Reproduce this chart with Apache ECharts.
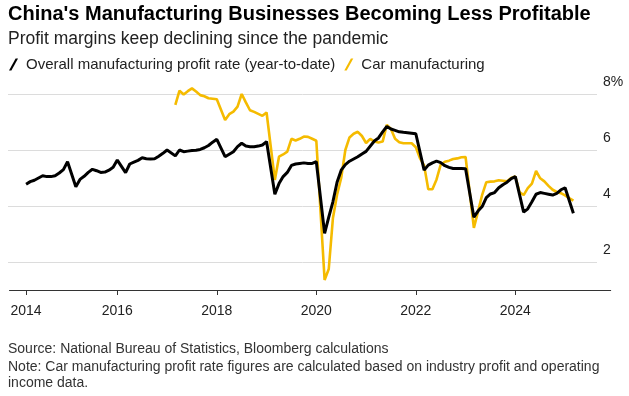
<!DOCTYPE html>
<html><head><meta charset="utf-8">
<script src="https://cdn.jsdelivr.net/npm/echarts@6/dist/echarts.min.js"></script>
<style>html,body{margin:0;padding:0;background:#fff}#c{width:629px;height:396px}</style>
</head><body><div id="c"></div>
<script>
const titleText = "China's Manufacturing Businesses Becoming Less Profitable";
const subtitleText = "Profit margins keep declining since the pandemic";
const sourceText = "Source: National Bureau of Statistics, Bloomberg calculations";
const noteText = "Note: Car manufacturing profit rate figures are calculated based on industry profit and operating\nincome data.";
const seriesNames = ['Overall manufacturing profit rate (year-to-date)', 'Car manufacturing'];

// monthly positions of the time axis
const axisStart = [2013, 11];
const axisEnd = [2025, 12];
const tickMonths = ['2014-03', '2016-01', '2018-01', '2020-01', '2022-01', '2024-01'];
const tickLabels = ['2014', '2016', '2018', '2020', '2022', '2024'];
const yTickLabels = {2: '2', 4: '4', 6: '6', 8: '8%'};

// Overall manufacturing profit rate (%), monthly from 2014-03
const overallStart = '2014-03';
const overallRate = [
  4.78, 4.87, 4.92, 5.0, 5.08, 5.05, 5.05, 5.08, 5.18, 5.3, 5.58,
  null,
  4.69, 4.95, 5.06, 5.2, 5.31, 5.26, 5.2, 5.21, 5.28, 5.38, 5.64,
  null,
  5.19, 5.5, 5.57, 5.63, 5.72, 5.69, 5.68, 5.69, 5.78, 5.88, 6.0,
  null,
  5.79, 6.0, 5.94, 5.96, 5.98, 5.99, 6.02, 6.08, 6.16, 6.28, 6.38,
  null,
  5.76, 5.85, 5.94, 6.12, 6.24, 6.14, 6.12, 6.12, 6.14, 6.18, 6.3,
  null,
  4.42, 4.8, 5.05, 5.2, 5.45, 5.5, 5.52, 5.54, 5.52, 5.52, 5.58,
  null,
  3.02, 3.6, 4.15, 4.85, 5.28, 5.48, 5.6, 5.68, 5.76, 5.86, 5.95,
  null,
  6.32, 6.43, 6.65, 6.84, 6.75, 6.7, 6.65, 6.63, 6.62, 6.6, 6.58,
  null,
  5.28, 5.46, 5.54, 5.6, 5.55, 5.44, 5.38, 5.34, 5.34, 5.34, 5.33,
  null,
  3.6, 3.82, 3.98, 4.3, 4.43, 4.48, 4.65, 4.76, 4.85, 4.98, 5.05,
  null,
  3.78, 3.9, 4.15, 4.42, 4.48, 4.45, 4.42, 4.39, 4.45, 4.58, 4.65,
  null,
  3.74
];

// Car manufacturing profit rate (%), monthly from 2017-03
const carStart = '2017-03';
const carRate = [
  7.61, 8.12, 7.98, 8.1, 8.2, 8.09, 7.96, 7.92, 7.85, 7.83, 7.81,
  null,
  7.07, 7.28, 7.37, 7.55, 8.0, 7.7, 7.42, 7.36, 7.29, 7.22, 7.34,
  null,
  4.93, 5.76, 5.84, 5.94, 6.4, 6.34, 6.4, 6.48, 6.47, 6.4, 6.33,
  null,
  1.36, 1.75, 3.56, 4.4, 5.0, 6.0, 6.45, 6.58, 6.65, 6.5, 6.25,
  6.4,
  6.3, 6.27, 6.3, 6.9, 6.75, 6.4, 6.28, 6.24, 6.24, 6.24, 6.1,
  5.7,
  5.45, 4.6, 4.6, 4.95, 5.48, 5.58, 5.62, 5.68, 5.7, 5.74, 5.75,
  null,
  3.22, 3.8, 4.4, 4.85, 4.87, 4.88, 4.92, 4.9, 4.88, 5.0, 5.05,
  4.5,
  4.39, 4.64, 4.8, 5.25, 4.99, 4.88, 4.72, 4.58, 4.5, 4.46, 4.38,
  4.28,
  4.19
];

function buildMonths(a, b) {
  const out = [];
  let y = a[0], m = a[1];
  while (y < b[0] || (y === b[0] && m <= b[1])) {
    out.push(y + '-' + String(m).padStart(2, '0'));
    m++; if (m > 12) { m = 1; y++; }
  }
  return out;
}
const months = buildMonths(axisStart, axisEnd);
function place(start, values) {
  const arr = new Array(months.length).fill(null);
  const s = months.indexOf(start);
  values.forEach((v, i) => { if (s + i < arr.length) arr[s + i] = v; });
  return arr;
}

const FONT = 'Liberation Sans, Arial, sans-serif';
const chart = echarts.init(document.getElementById('c'), null, {renderer: 'canvas'});
const tickFn = (idx, val) => tickMonths.indexOf(val) >= 0;

chart.setOption({
  animation: false,
  backgroundColor: '#fff',
  textStyle: {fontFamily: FONT},
  title: [
    {text: titleText, left: 8, top: 4, padding: 0,
     textStyle: {fontSize: 20, fontWeight: 'bold', color: '#000', fontFamily: FONT}},
    {text: subtitleText, left: 8, top: 30, padding: 0,
     textStyle: {fontSize: 17.5, fontWeight: 'normal', color: '#222', fontFamily: FONT}},
    {text: sourceText, left: 8, top: 342, padding: 0,
     textStyle: {fontSize: 14, fontWeight: 'normal', color: '#333', fontFamily: FONT}},
    {text: noteText, left: 8, top: 359, padding: 0,
     textStyle: {fontSize: 14, fontWeight: 'normal', color: '#333', lineHeight: 16, fontFamily: FONT}}
  ],
  legend: {
    left: 9, top: 57, padding: 0,
    itemWidth: 9, itemHeight: 12, itemGap: 9,
    icon: 'path://M0,12 L2.4,12 L9,0 L6.6,0 Z',
    data: seriesNames,
    textStyle: {fontSize: 15, color: '#222', fontFamily: FONT, padding: [0, 0, 0, 3]}
  },
  grid: [
    {left: 9.5, right: 18.3, top: 66, bottom: 106, containLabel: false},
    {left: 8, right: 32, top: 66, bottom: 78, containLabel: false}
  ],
  xAxis: [
    {type: 'category', gridIndex: 0, data: months, boundaryGap: false,
     axisLine: {onZero: false, lineStyle: {color: '#333', width: 1}},
     axisTick: {show: true, interval: tickFn, length: 5, lineStyle: {color: '#333'}},
     axisLabel: {interval: tickFn, margin: 14, fontSize: 14, color: '#222', fontFamily: FONT,
       formatter: v => tickLabels[tickMonths.indexOf(v)] || ''},
     splitLine: {show: false}},
    {type: 'category', gridIndex: 1, data: months, boundaryGap: false, show: false}
  ],
  yAxis: [
    {type: 'value', gridIndex: 0, min: 1, max: 9, show: false, splitLine: {show: false}},
    {type: 'value', gridIndex: 1, min: 0, max: 9, interval: 2, position: 'right',
     axisLine: {show: false}, axisTick: {show: false},
     splitLine: {show: true, showMinLine: false, showMaxLine: false, lineStyle: {color: '#dcdcdc', width: 1}},
     axisLabel: {show: true, showMinLabel: false, showMaxLabel: false, margin: 6, align: 'left',
       verticalAlign: 'bottom', padding: [0, 0, 5, 0], fontSize: 14, color: '#222', fontFamily: FONT,
       formatter: v => yTickLabels[v] || ''}}
  ],
  series: [
    {name: seriesNames[1], type: 'line', xAxisIndex: 0, yAxisIndex: 0,
     data: place(carStart, carRate), showSymbol: false, symbol: 'none', connectNulls: true,
     lineStyle: {color: '#f5bb00', width: 2.6}, itemStyle: {color: '#f5bb00'}, z: 2},
    {name: seriesNames[0], type: 'line', xAxisIndex: 0, yAxisIndex: 0,
     data: place(overallStart, overallRate), showSymbol: false, symbol: 'none', connectNulls: true,
     lineStyle: {color: '#000', width: 3}, itemStyle: {color: '#000'}, z: 3}
  ]
});
</script>
</body></html>
